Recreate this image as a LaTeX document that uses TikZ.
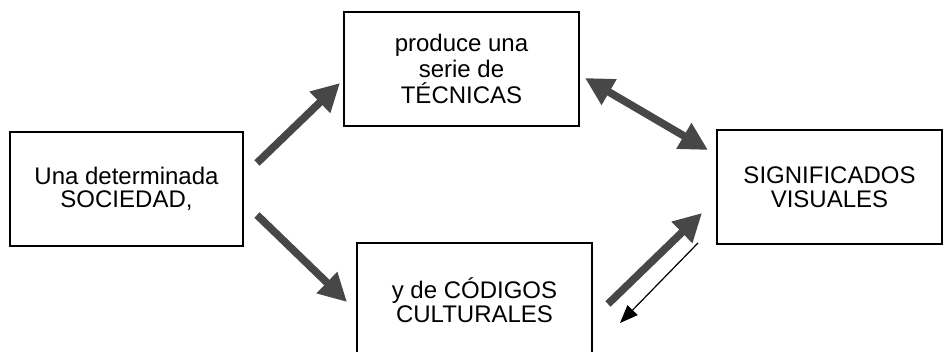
\documentclass[tikz,border=0pt]{standalone}
\usepackage{fontspec}
\setmainfont{Liberation Sans}
\usetikzlibrary{arrows.meta}
\begin{document}
\begin{tikzpicture}[x=0.5pt,y=-0.5pt,
    caja/.style={draw,line width=1pt,minimum height=57pt,align=center,inner sep=0pt,
      font=\fontsize{12}{11.8}\selectfont},
    gruesa/.style={draw=black!72,line width=3.8pt},
    fina/.style={draw=black,line width=0.6pt,-{Triangle[length=9pt,width=7pt]}}]
    \useasboundingbox (0,0) rectangle (944,352);

    \node[caja,minimum width=116.5pt] (sociedad) at (126.5,189) {Una determinada\\SOCIEDAD,};
    \node[caja,minimum width=117.5pt,font=\fontsize{12}{13.2}\selectfont] (tecnicas) at (461.5,69) {produce una\\serie de\\TÉCNICAS};
    \node[caja,minimum width=117.5pt] (codigos) at (474.5,300) {y de CÓDIGOS\\CULTURALES};
    \node[caja,minimum width=112.5pt] (significados) at (829.5,187.5) {SIGNIFICADOS\\VISUALES};

    \coordinate (s1) at (257,163);
    \coordinate (t1) at (340,83);
    \coordinate (s2) at (257,215);
    \coordinate (c1) at (347,302);
    \coordinate (t2) at (585,78);
    \coordinate (g1) at (708,150);
    \coordinate (c2) at (608,304);
    \coordinate (g2) at (702,213);
    \coordinate (g3) at (698,243);
    \coordinate (c3) at (620,323);

    \draw[gruesa,-{Triangle[length=14pt,width=14pt]}] (s1) -- (t1);
    \draw[gruesa,-{Triangle[length=14pt,width=14pt]}] (s2) -- (c1);
    \draw[gruesa,{Triangle[length=14pt,width=14pt]}-{Triangle[length=14pt,width=14pt]}] (t2) -- (g1);
    \draw[gruesa,-{Triangle[length=14pt,width=14pt]}] (c2) -- (g2);
    \draw[fina] (g3) -- (c3);

\end{tikzpicture}
\end{document}
